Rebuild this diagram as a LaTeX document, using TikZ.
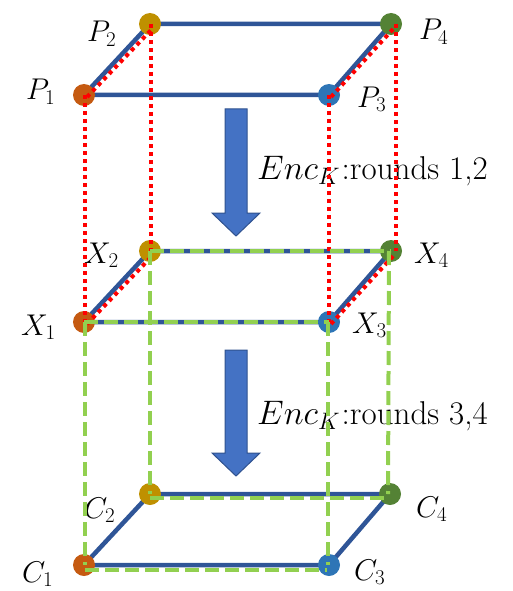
\RequirePackage{fix-cm}
\documentclass[tikz,border=0pt]{standalone}
\definecolor{edgeblue}{HTML}{2F5597}
\definecolor{arrowblue}{HTML}{4472C4}
\definecolor{arrowborder}{HTML}{2F528F}
\definecolor{lgreen}{HTML}{92D050}
\definecolor{cone}{HTML}{C55A11}
\definecolor{ctwo}{HTML}{BF9000}
\definecolor{cthree}{HTML}{2E75B6}
\definecolor{cfour}{HTML}{548235}
\newcommand{\enclabel}[1]{{\fontsize{34}{40}\selectfont$Enc_K$}\,{\fontsize{33}{38}\selectfont:rounds #1}}
\begin{document}
\begin{tikzpicture}[x=1pt,y=-1pt,
  dot/.style={circle,inner sep=0pt,minimum size=22pt},
  edge/.style={line width=4.5pt,draw=edgeblue},
  reddot/.style={draw=red,line width=4pt,dash pattern=on 4pt off 4pt},
  greendash/.style={draw=lgreen,line width=4pt,dash pattern=on 14pt off 6pt},
  lab/.style={anchor=base west,inner sep=0pt,font=\fontsize{30}{35}\selectfont},
  enc/.style={anchor=base west,inner sep=0pt},
  bigarrow/.style={fill=arrowblue,draw=arrowborder,line width=1pt}]
\useasboundingbox (0,0) rectangle (512,591);

% block arrows
\draw[bigarrow] (225,109) -- (247,109) -- (247,213) -- (260,213) -- (236,236)
  -- (212,213) -- (225,213) -- cycle;
\draw[bigarrow] (225,350) -- (247,350) -- (247,453) -- (260,453) -- (236,476)
  -- (212,453) -- (225,453) -- cycle;

% vertices
\node[dot] (P1) at (84,95) {};
\node[dot] (P2) at (150,24) {};
\node[dot] (P3) at (329,95) {};
\node[dot] (P4) at (391,24) {};
\node[dot] (X1) at (84,322) {};
\node[dot] (X2) at (150,251) {};
\node[dot] (X3) at (329,322) {};
\node[dot] (X4) at (391,251) {};
\node[dot] (C1) at (84,565) {};
\node[dot] (C2) at (150,494) {};
\node[dot] (C3) at (329,565) {};
\node[dot] (C4) at (390,494) {};

% blue edges
\foreach \L in {P,X,C}{
  \draw[edge] (\L1.center) -- (\L2.center) -- (\L4.center) -- (\L3.center) -- cycle;
}

% coloured dots
\foreach \L in {P,X,C}{
  \fill[cone] (\L1) circle (11pt);
  \fill[ctwo] (\L2) circle (11pt);
  \fill[cthree] (\L3) circle (11pt);
  \fill[cfour] (\L4) circle (11pt);
}

% labels
\node[lab] (lP1) at (26,100) {$P_1$};
\node[lab] (lP2) at (87,42) {$P_2$};
\node[lab] (lP3) at (357,107) {$P_3$};
\node[lab] (lP4) at (419,40) {$P_4$};
\node[lab] (lX1) at (21,335) {$X_1$};
\node[lab] (lX2) at (84,263) {$X_2$};
\node[lab] (lX3) at (352,333) {$X_3$};
\node[lab] (lX4) at (414,263) {$X_4$};
\node[lab] (lC1) at (22,582) {$C_1$};
\node[lab] (lC2) at (84,518) {$C_2$};
\node[lab] (lC3) at (354,580) {$C_3$};
\node[lab] (lC4) at (416,517) {$C_4$};

\node[enc] (e1) at (257,179) {\enclabel{1,2}};
\node[enc] (e2) at (257,424) {\enclabel{3,4}};

% red dotted projections
\draw[reddot] ([shift={(3pt,-2pt)}]P1.center) -- ([shift={(3pt,-4pt)}]P2.center);
\draw[reddot] ([shift={(2pt,-2pt)}]P3.center) -- ([shift={(3pt,-4pt)}]P4.center);
\draw[reddot] ([shift={(3pt,-2pt)}]X1.center) -- ([shift={(3pt,-4pt)}]X2.center);
\draw[reddot] ([shift={(2pt,-2pt)}]X3.center) -- ([shift={(3pt,-4pt)}]X4.center);
\draw[reddot] ([xshift=1pt]P1.center) -- ([xshift=1pt]X1.center);
\draw[reddot] ([xshift=1pt]P2.center) -- ([xshift=1pt]X2.center);
\draw[reddot] (P3.center) -- (X3.center);
\draw[reddot] ([xshift=5pt]P4.center) -- ([xshift=5pt]X4.center);

% green dashed projections
\draw[greendash] (X1.center) -- (X3.center);
\draw[greendash] (X2.center) -- (X4.center);
\draw[greendash] ([xshift=1pt]X1.center) -- ([xshift=1pt]C1.center);
\draw[greendash] (X2.center) -- (C2.center);
\draw[greendash] ([xshift=-1pt]X3.center) -- ([xshift=-1pt]C3.center);
\draw[greendash] ([xshift=-2pt]X4.center) -- ([xshift=-2pt]C4.center);
\draw[greendash] ([shift={(1pt,-5pt)}]C1.center) -- ([shift={(-2pt,-5pt)}]C3.center);
\draw[greendash] ([yshift=-4pt]C2.center) -- ([shift={(-2pt,-4pt)}]C4.center);
\end{tikzpicture}
\end{document}
